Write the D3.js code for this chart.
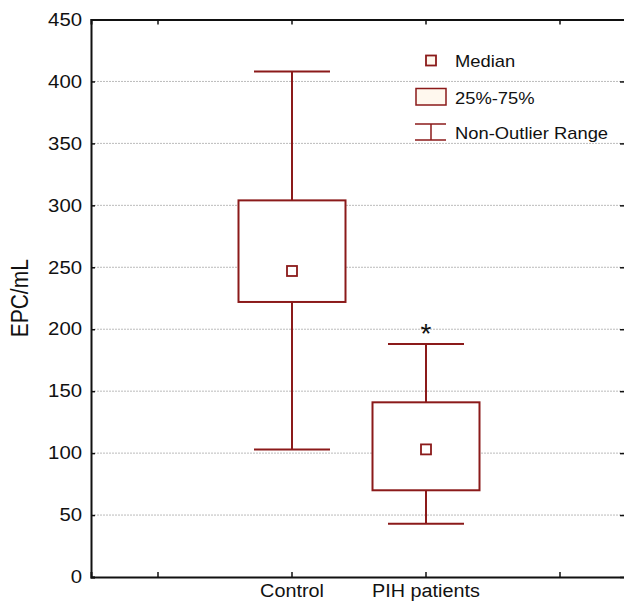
<!DOCTYPE html>
<html><head><meta charset="utf-8">
<script src="https://cdn.jsdelivr.net/npm/d3@7"></script>
<style>body{margin:0;background:#fff;}svg{display:block;font-family:"Liberation Sans",Arial,sans-serif;}</style>
</head><body><svg id="c" width="624" height="602"></svg>
<script>
const slots = ["s0", "Control", "PIH patients", "s3"];
const groups = ["Control", "PIH patients"];
const whiskerLow = [103, 43];
const q1 = [222, 70];
const medians = [247, 103];
const q3 = [304, 141];
const whiskerHigh = [408, 188];
const significance = ["", "*"];
const yTicks = [0, 50, 100, 150, 200, 250, 300, 350, 400, 450];
const legendLabels = ["Median", "25%-75%", "Non-Outlier Range"];

const col = "#8b1a1a";
const svg = d3.select("#c");
const L = 91, R = 627, T = 19.5, B = 577;
const x = d3.scaleBand().domain(slots).range([L, R]).padding(0);
const y = d3.scaleLinear().domain([0, 450]).range([B, T]);
const cx = d => x(d) + x.bandwidth() / 2;

function stretch(sel, k) {
  sel.each(function () {
    const w = this.getComputedTextLength();
    if (w > 0) d3.select(this).attr("textLength", w * k).attr("lengthAdjust", "spacingAndGlyphs");
  });
}

// grid
svg.append("g").selectAll("line").data(yTicks.filter(v => v > 0 && v < 450)).join("line")
  .attr("x1", L).attr("x2", R).attr("y1", d => y(d)).attr("y2", d => y(d))
  .attr("stroke", "#bbb").attr("stroke-width", 1).attr("stroke-dasharray", "2,1");

// axes
const yAx = svg.append("g").attr("transform", `translate(${L},0)`)
  .call(d3.axisLeft(y).tickValues(yTicks).tickSize(-4).tickPadding(9));
yAx.selectAll("text").attr("font-size", 18).attr("fill", "#111").call(stretch, 1.13);
const yAxR = svg.append("g").attr("transform", `translate(${R - 3},0)`)
  .call(d3.axisRight(y).tickValues(yTicks).tickSize(-4).tickFormat(""));
yAxR.select(".domain").remove();
const xAx = svg.append("g").attr("transform", `translate(0,${B})`)
  .call(d3.axisBottom(x).tickSize(-5).tickPadding(7).tickFormat(d => groups.includes(d) ? d : ""));
xAx.selectAll("text").attr("font-size", 18).attr("fill", "#111").attr("dy", "0.72em").call(stretch, 1.1);
svg.append("g").attr("transform", `translate(0,${T})`)
  .call(d3.axisTop(x).tickSize(-5).tickFormat(""));
svg.selectAll(".domain").attr("stroke", "#111").attr("stroke-width", 2);
svg.selectAll(".tick line").attr("stroke", "#111").attr("stroke-width", 1.5);

svg.append("text").attr("transform", `translate(28,${(T + B) / 2}) rotate(-90) scale(1,1.15)`)
  .attr("text-anchor", "middle").attr("font-size", 21).attr("fill", "#111").text("EPC/mL");

// boxes
const g = svg.append("g");
groups.forEach((grp, i) => {
  const c = cx(grp);
  const bw = 107, cw = 76;
  g.append("line").attr("x1", c).attr("x2", c).attr("y1", y(whiskerHigh[i])).attr("y2", y(q3[i]))
    .attr("stroke", col).attr("stroke-width", 2);
  g.append("line").attr("x1", c).attr("x2", c).attr("y1", y(q1[i])).attr("y2", y(whiskerLow[i]))
    .attr("stroke", col).attr("stroke-width", 2);
  [whiskerHigh[i], whiskerLow[i]].forEach(v => g.append("line")
    .attr("x1", c - cw / 2).attr("x2", c + cw / 2).attr("y1", y(v)).attr("y2", y(v))
    .attr("stroke", col).attr("stroke-width", 2));
  g.append("rect").attr("x", c - bw / 2).attr("width", bw).attr("y", y(q3[i]))
    .attr("height", y(q1[i]) - y(q3[i])).attr("fill", "#fff").attr("stroke", col).attr("stroke-width", 2);
  g.append("rect").attr("x", c - 5).attr("y", y(medians[i]) - 5).attr("width", 10).attr("height", 10)
    .attr("fill", "#fff").attr("stroke", col).attr("stroke-width", 1.8);
  if (significance[i]) g.append("text").attr("x", c).attr("y", y(whiskerHigh[i]) - 1)
    .attr("text-anchor", "middle").attr("font-size", 28)
    .attr("fill", "#111").text(significance[i]);
});

// legend
const lg = svg.append("g");
lg.append("rect").attr("x", 426).attr("y", 55.5).attr("width", 10).attr("height", 10)
  .attr("fill", "#fff8ee").attr("stroke", col).attr("stroke-width", 1.8);
lg.append("rect").attr("x", 416).attr("y", 88.5).attr("width", 30).attr("height", 16.5)
  .attr("fill", "#fff8ee").attr("stroke", col).attr("stroke-width", 1.5);
lg.append("line").attr("x1", 415).attr("x2", 446).attr("y1", 124).attr("y2", 124).attr("stroke", col).attr("stroke-width", 1.5);
lg.append("line").attr("x1", 415).attr("x2", 446).attr("y1", 140).attr("y2", 140).attr("stroke", col).attr("stroke-width", 1.5);
lg.append("line").attr("x1", 431).attr("x2", 431).attr("y1", 124).attr("y2", 140).attr("stroke", col).attr("stroke-width", 1.5);
const ly = [67, 104, 139];
legendLabels.forEach((t, i) => lg.append("text").attr("x", 455).attr("y", ly[i])
  .attr("font-size", 17).attr("fill", "#111").text(t));
lg.selectAll("text").call(stretch, 1.08);
</script></body></html>
